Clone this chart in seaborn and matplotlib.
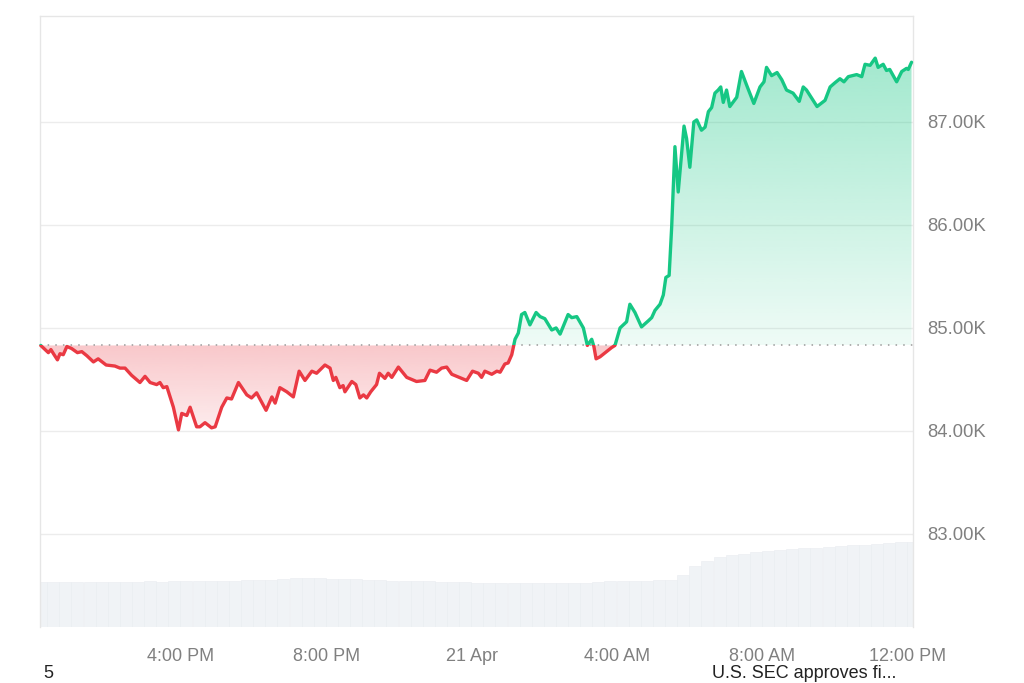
import numpy as np
import pandas as pd
import matplotlib
matplotlib.use("Agg")
import matplotlib.pyplot as plt
from matplotlib.path import Path
from matplotlib.colors import to_rgb
import seaborn as sns

# hours since 20 Apr 12:00 PM
hours = [0.14, 0.35, 0.42, 0.49, 0.60, 0.67, 0.76, 0.86, 0.99, 1.15, 1.27, 1.41, 1.59, 1.72,
         1.94, 2.18, 2.32, 2.46, 2.64, 2.87, 3.01, 3.15, 3.33, 3.42, 3.51, 3.61, 3.79, 3.93,
         4.02, 4.16, 4.25, 4.43, 4.52, 4.66, 4.84, 4.94, 5.12, 5.26, 5.39, 5.58, 5.81, 5.94,
         6.08, 6.34, 6.50, 6.59, 6.72, 6.91, 7.09, 7.25, 7.41, 7.60, 7.73, 7.96, 8.10, 8.19,
         8.26, 8.37, 8.46, 8.51, 8.70, 8.81, 8.92, 9.02, 9.11, 9.22, 9.38, 9.46, 9.61, 9.70,
         9.80, 9.98, 10.21, 10.48, 10.71, 10.85, 11.03, 11.17, 11.31, 11.45, 11.72, 11.86,
         12.02, 12.18, 12.27, 12.36, 12.55, 12.69, 12.78, 12.91, 13.00, 13.10, 13.19, 13.28,
         13.37, 13.46, 13.60, 13.77, 13.88, 14.01, 14.20, 14.32, 14.43, 14.65, 14.75, 14.89,
         15.07, 15.18, 15.30, 15.36, 15.42, 15.53, 15.71, 15.85, 15.94, 16.08, 16.26, 16.35,
         16.49, 16.67, 16.86, 16.95, 17.04, 17.18, 17.27, 17.34, 17.43, 17.50, 17.59, 17.68,
         17.84, 17.91, 18.00, 18.11, 18.19, 18.32, 18.42, 18.51, 18.60, 18.69, 18.78, 18.85,
         18.92, 19.01, 19.10, 19.29, 19.42, 19.56, 19.76, 19.93, 20.04, 20.11, 20.25, 20.40,
         20.53, 20.66, 20.84, 21.01, 21.12, 21.21, 21.50, 21.72, 21.86, 21.99, 22.13, 22.24,
         22.36, 22.59, 22.73, 22.82, 22.96, 23.10, 23.18, 23.32, 23.41, 23.50, 23.69, 23.83,
         23.96, 24.01, 24.10]

# price in thousands USD
price_k = [84.83, 84.76, 84.79, 84.75, 84.69, 84.75, 84.74, 84.82, 84.80, 84.76, 84.77, 84.73,
           84.67, 84.70, 84.64, 84.63, 84.61, 84.61, 84.54, 84.47, 84.53, 84.47, 84.45, 84.47,
           84.42, 84.43, 84.23, 84.01, 84.17, 84.15, 84.23, 84.04, 84.04, 84.08, 84.03, 84.04,
           84.23, 84.32, 84.31, 84.47, 84.35, 84.32, 84.37, 84.20, 84.33, 84.27, 84.42, 84.38,
           84.33, 84.58, 84.49, 84.58, 84.56, 84.64, 84.61, 84.49, 84.52, 84.42, 84.44, 84.38,
           84.48, 84.45, 84.32, 84.35, 84.32, 84.38, 84.45, 84.56, 84.51, 84.56, 84.52, 84.62,
           84.52, 84.48, 84.49, 84.59, 84.57, 84.61, 84.62, 84.55, 84.51, 84.49, 84.58, 84.56,
           84.52, 84.58, 84.55, 84.58, 84.57, 84.65, 84.66, 84.74, 84.89, 84.95, 85.13, 85.15,
           85.03, 85.15, 85.11, 85.09, 84.98, 85.00, 84.94, 85.13, 85.10, 85.11, 85.00, 84.83,
           84.89, 84.82, 84.70, 84.72, 84.77, 84.81, 84.83, 85.00, 85.06, 85.23, 85.15, 85.01,
           85.07, 85.10, 85.17, 85.23, 85.32, 85.49, 85.51, 85.98, 86.76, 86.32, 86.96, 86.84,
           86.56, 87.00, 87.02, 86.92, 86.95, 87.10, 87.14, 87.28, 87.31, 87.34, 87.19, 87.31,
           87.15, 87.24, 87.49, 87.36, 87.18, 87.34, 87.39, 87.53, 87.45, 87.48, 87.41, 87.31,
           87.28, 87.20, 87.34, 87.31, 87.15, 87.21, 87.34, 87.38, 87.42, 87.39, 87.44, 87.46,
           87.44, 87.56, 87.55, 87.62, 87.53, 87.56, 87.50, 87.51, 87.39, 87.49, 87.52, 87.51,
           87.58]

# volume bars, one every 20 minutes starting at 0.15 h
vol_start = 0.15
vol_b = [15.0, 14.9, 15.1, 15.0, 15.0, 15.1, 14.9, 15.0, 15.1,
         15.2, 15.1, 15.3, 15.2, 15.2, 15.3, 15.4,
         15.5, 15.7, 15.6, 15.8, 15.9,
         16.2, 16.4, 16.3,
         16.1, 16.0, 15.9, 15.8, 15.7,
         15.5, 15.4, 15.3, 15.2, 15.1, 15.0,
         14.9, 14.8, 14.7, 14.7, 14.6, 14.7, 14.6, 14.7, 14.8, 14.7, 14.8,
         15.0, 15.2, 15.3, 15.2, 15.4, 15.6,
         15.8, 17.5, 20.5, 22.0, 23.4, 24.1, 24.5, 24.9, 25.3, 25.6, 26.0, 26.3,
         26.5, 26.8, 27.1, 27.3, 27.5, 27.8, 28.0, 28.2, 28.3]

tick_hours = [4, 8, 12, 16, 20, 24]
tick_labels = ["4:00 PM", "8:00 PM", "21 Apr", "4:00 AM", "8:00 AM", "12:00 PM"]
y_ticks = [83, 84, 85, 86, 87]

RED = "#ea3943"
GREEN = "#16c784"

df = pd.DataFrame({"hours": hours, "price": price_k})
base = price_k[0]

sns.set_style("white")
plt.rcParams["font.family"] = ["Liberation Sans", "DejaVu Sans"]

fig = plt.figure(figsize=(10.24, 6.83), dpi=100)
ax = fig.add_axes([40 / 1024, 1 - 627 / 683, 873 / 1024, 611 / 683])
ax.set_xlim(0.12, 24.14)
ax.set_ylim(82.096, 88.029)

# volume on a hidden twin axis
axv = ax.twinx()
vol_x = [vol_start + i / 3 for i in range(len(vol_b))]
axv.bar(vol_x, vol_b, width=0.33, color="#f0f3f6", edgecolor="#e9edf1",
        linewidth=0.4, zorder=0)
axv.set_ylim(0, 611 / 3)
axv.set_yticks([])
for s in axv.spines.values():
    s.set_visible(False)
ax.set_zorder(axv.get_zorder() + 1)
ax.patch.set_visible(False)

# gridlines
for yv in y_ticks:
    ax.axhline(yv, color="#ececec", lw=1, zorder=1)

# gradient fills
def gradient_fill(where, color, y_lo, y_hi, a_lo, a_hi):
    poly = ax.fill_between(df["hours"], df["price"], base, where=where,
                           interpolate=True, facecolor="none", edgecolor="none")
    clip = Path.make_compound_path(*poly.get_paths())
    n = 256
    rgba = np.zeros((n, 1, 4))
    rgba[:, 0, :3] = to_rgb(color)
    rgba[:, 0, 3] = np.linspace(a_hi, a_lo, n)
    im = ax.imshow(rgba, extent=[0.12, 24.14, y_lo, y_hi], aspect="auto",
                   origin="upper", zorder=2, interpolation="bilinear")
    im.set_clip_path(clip, transform=ax.transData)

p = np.array(price_k)
gradient_fill(p >= base, GREEN, base, 87.65, 0.07, 0.40)
gradient_fill(p <= base, RED, 83.95, base, 0.08, 0.28)

# baseline
ax.axhline(base, color="#9a9a9a", lw=1.1, ls=(0, (1, 4)), zorder=3)

# price line, coloured above / below the open
for col, clip_lo, clip_hi in [(GREEN, base, 90), (RED, 80, base)]:
    sns.lineplot(data=df, x="hours", y="price", ax=ax, color=col, lw=2.4, zorder=4)
    ln = ax.lines[-1]
    rect = plt.Rectangle((0, clip_lo), 30, clip_hi - clip_lo, transform=ax.transData)
    ln.set_clip_path(rect)
    ln.set_solid_joinstyle("round")

ax.set_xlabel("")
ax.set_ylabel("")
ax.set_xticks(tick_hours)
ax.set_xticklabels(tick_labels)
ax.set_yticks(y_ticks)
ax.set_yticklabels([f"{v:.2f}K" for v in y_ticks])
ax.yaxis.tick_right()
ax.tick_params(axis="x", length=0, pad=15, labelsize=13, labelcolor="#808080")
ax.tick_params(axis="y", length=0, pad=10, labelsize=13.3, labelcolor="#808080")
for name, s in ax.spines.items():
    s.set_color("#e6e6e6")
    s.set_linewidth(1)
ax.spines["bottom"].set_visible(False)

fig.text(43 / 1024, 1 - 674 / 683, "5", fontsize=13, color="#222222", va="center")
fig.text(712 / 1024, 1 - 674 / 683, "U.S. SEC approves fi...", fontsize=13,
         color="#222222", va="center")

fig.savefig("out.png", dpi=100)
